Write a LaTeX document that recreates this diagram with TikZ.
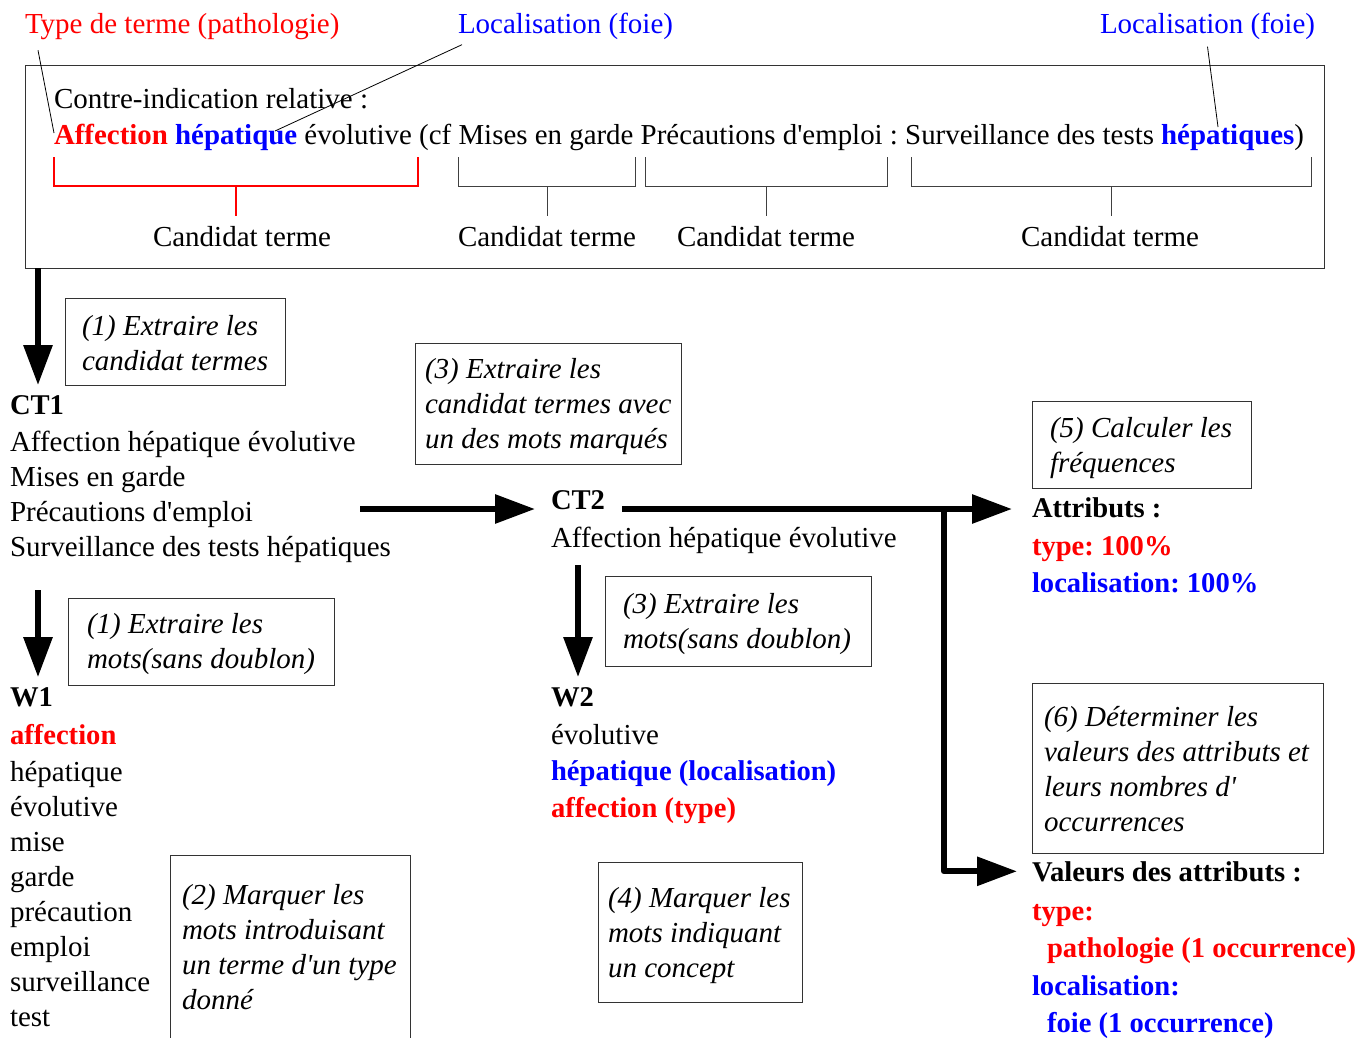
\documentclass[tikz,border=0pt]{standalone}
\usepackage{fontspec}
\setmainfont{Liberation Serif}
\usetikzlibrary{arrows.meta}
\definecolor{tred}{RGB}{255,0,0}
\definecolor{tblue}{RGB}{0,0,255}
% straight typewriter-style apostrophe
\newcommand{\ap}{\textquotesingle}

\begin{document}
\frenchspacing
\begin{tikzpicture}[x=1pt,y=-1pt,
  txt/.style={inner sep=0pt, outer sep=0pt, anchor=base west, font=\fontsize{29}{35}\selectfont},
  bold/.style={txt, font=\fontsize{28.6}{35}\selectfont\bfseries},
  multi/.style={inner sep=0pt, outer sep=0pt, anchor=north west, align=left, font=\fontsize{29}{35}\selectfont},
  ital/.style={multi, font=\fontsize{29}{35}\selectfont\itshape},
  box/.style={draw=black!80, line width=1pt, inner sep=0pt, anchor=north west},
  arr/.style={line width=6pt, -{Triangle[length=40pt,width=28pt]}},
  lead/.style={line width=0.8pt, black},
  redbr/.style={line width=2.5pt, tred},
  graybr/.style={line width=1pt, black!75},
]
\useasboundingbox (0,0) rectangle (1370,1037);

% ---------- source sentence ----------
\node[txt, text=tred]  (lblType) at (25,33)   {Type de terme (pathologie)};
\node[txt, text=tblue] (lblLoc1) at (458,33)  {Localisation (foie)};
\node[txt, text=tblue] (lblLoc2) at (1100,33) {Localisation (foie)};

\node[box, minimum width=1299pt, minimum height=203pt] (mainbox) at (25,65) {};
\node[txt] (line1) at (54,108) {Contre-indication relative :};
\node[txt, font=\fontsize{28.9}{35}\selectfont] (line2) at (54,144) {\textcolor{tred}{\bfseries Affection} \textcolor{tblue}{\bfseries hépatique} évolutive (cf Mises en garde Précautions d\ap emploi : Surveillance des tests \textcolor{tblue}{\bfseries hépatiques})};

\coordinate (pAff)  at (54,133);
\coordinate (pHep)  at (275,131);
\coordinate (pHeps) at (1218,127);
\draw[lead] ([xshift=13pt,yshift=-11pt]lblType.south west) -- (pAff);
\draw[lead] ([xshift=4pt,yshift=-5.5pt]lblLoc1.south west) -- (pHep);
\draw[lead] ([yshift=-7.5pt]lblLoc2.south) -- (pHeps);

% brackets under the candidate terms
\draw[redbr]  (54,157) -- (54,186) -- (418,186) -- (418,157);
\draw[redbr]  (236,186) -- (236,216);
\draw[graybr] (458,157) -- (458,186) -- (635,186) -- (635,157);
\draw[graybr] (547,186) -- (547,216);
\draw[graybr] (645,157) -- (645,186) -- (887,186) -- (887,157);
\draw[graybr] (766,186) -- (766,216);
\draw[graybr] (911,157) -- (911,186) -- (1311,186) -- (1311,157);
\draw[graybr] (1111,186) -- (1111,216);

\node[txt, anchor=base] (cand1) at (242,246)  {Candidat terme};
\node[txt, anchor=base] (cand2) at (547,246)  {Candidat terme};
\node[txt, anchor=base] (cand3) at (766,246)  {Candidat terme};
\node[txt, anchor=base] (cand4) at (1110,246) {Candidat terme};

% ---------- CT1 ----------
\node[box, minimum width=220pt, minimum height=87pt] (box1a) at (65,298) {};
\node[ital] (step1a) at (82,310.5) {\strut(1) Extraire les\\candidat termes};

\node[bold] (ct1) at (10,414) {CT1};
\node[multi] (ct1list) at (10,426.5) {\strut Affection hépatique évolutive\\Mises en garde\\Précautions d\ap emploi\\Surveillance des tests hépatiques};

\coordinate (ct1top) at (38,268);
\draw[arr] (ct1top) -- (ct1top |- ct1.north) [shorten >=10pt];

% ---------- CT2 ----------
\node[box, minimum width=266pt, minimum height=121pt] (box3a) at (415,343) {};
\node[ital] (step3a) at (425,353.5) {\strut(3) Extraire les\\candidat termes avec\\un des mots marqués};

\node[bold] (ct2) at (551,509) {CT2};
\node[txt] (ct2list) at (551,547) {Affection hépatique évolutive};

\coordinate (ct1out) at (360,509);
\draw[arr] (ct1out) -- ([xshift=-16pt]ct2.base west);

% ---------- attributes ----------
\node[box, minimum width=219pt, minimum height=87pt] (box5) at (1032,401) {};
\node[ital] (step5) at (1050,412.5) {\strut(5) Calculer les\\fréquences};

\node[bold] (attr) at (1032,517) {Attributs :};
\node[bold, text=tred]  (attrType) at (1032,555) {type: 100\%};
\node[bold, text=tblue] (attrLoc)  at (1032,592) {localisation: 100\%};

\node[box, minimum width=291pt, minimum height=170pt] (box6) at (1032,683) {};
\node[ital] (step6) at (1044,701.5) {\strut(6) Déterminer les\\valeurs des attributs et\\leurs nombres d\ap\\occurrences};

\node[bold] (vals) at (1032,881) {Valeurs des attributs :};
\node[bold, text=tred]  (valType)  at (1032,920)  {type:};
\node[bold, text=tred]  (valPath)  at (1047,957)  {pathologie (1 occurrence)};
\node[bold, text=tblue] (valLoc)   at (1032,995)  {localisation:};
\node[bold, text=tblue] (valFoie)  at (1047,1032) {foie (1 occurrence)};

\coordinate (ct2out) at (622,509);
\coordinate (branch) at (944,509);
\draw[arr] (ct2out) -- (ct2out -| attr.west) [shorten >=20pt];
\draw[arr, line join=round] (branch) |- ([xshift=-15pt]vals.west);

% ---------- W1 ----------
\node[box, minimum width=266pt, minimum height=87pt] (box1b) at (68,598) {};
\node[ital] (step1b) at (87,608.5) {\strut(1) Extraire les\\mots(sans doublon)};

\node[bold] (w1) at (10,706) {W1};
\node[bold, text=tred] (w1aff) at (10,744) {affection};
\node[multi] (w1list) at (10,756.5) {\strut hépatique\\évolutive\\mise\\garde\\précaution\\emploi\\surveillance\\test};

\coordinate (w1top) at (38,590);
\draw[arr] (w1top) -- (w1top |- w1.north) [shorten >=10pt];

\draw[box] (170,1040) -- (170,855) -- (410,855) -- (410,1040);
\node[ital] (step2) at (182,879.5) {\strut(2) Marquer les\\mots introduisant\\un terme d\ap un type\\donné};

% ---------- W2 ----------
\node[box, minimum width=266pt, minimum height=90pt] (box3b) at (605,576) {};
\node[ital] (step3b) at (623,588.5) {\strut(3) Extraire les\\mots(sans doublon)};

\node[bold] (w2) at (551,706) {W2};
\node[txt] (w2evo) at (551,744) {évolutive};
\node[bold, text=tblue] (w2hep) at (551,780) {hépatique (localisation)};
\node[bold, text=tred]  (w2aff) at (551,817) {affection (type)};

\coordinate (w2top) at (578,565);
\draw[arr] (w2top) -- (w2top |- w2.north) [shorten >=10pt];

\node[box, minimum width=204pt, minimum height=140pt] (box4) at (598,862) {};
\node[ital] (step4) at (608,882.5) {\strut(4) Marquer les\\mots indiquant\\un concept};

\end{tikzpicture}
\end{document}
